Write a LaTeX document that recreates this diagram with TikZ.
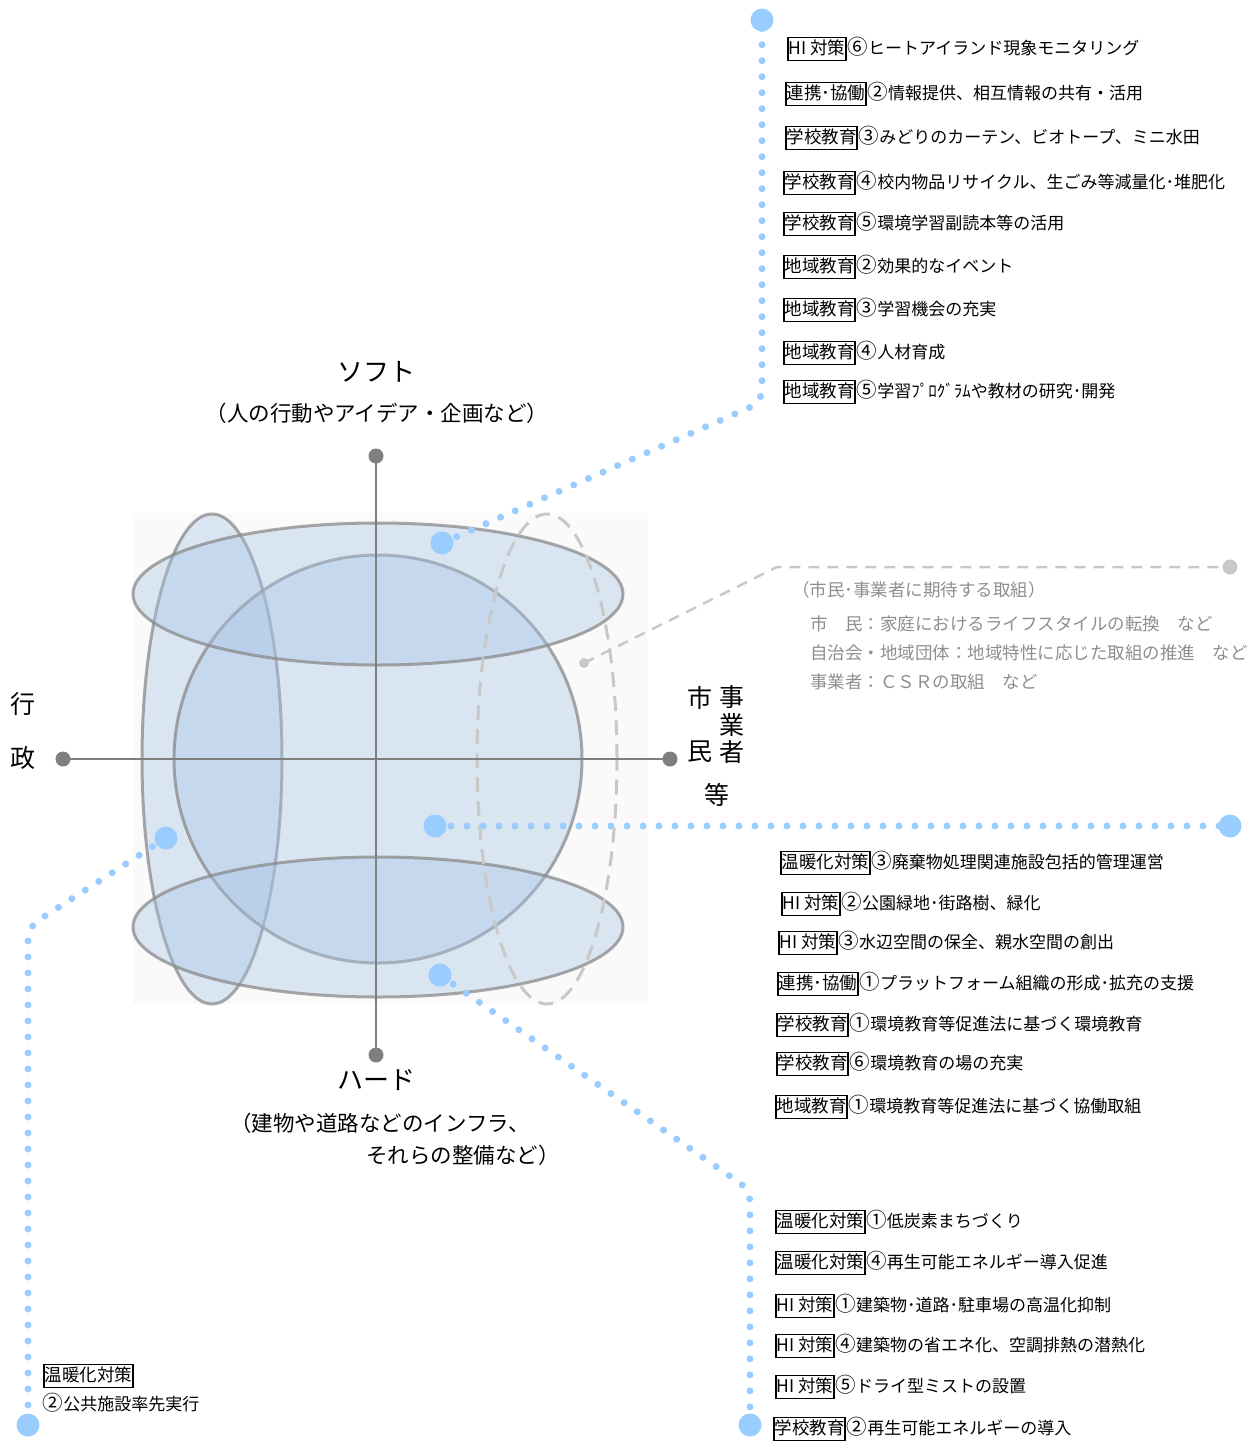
\documentclass[tikz,border=0pt]{standalone}
\usepackage{fontspec}
\setmainfont{Noto Sans CJK JP}
\definecolor{bdot}{HTML}{99CCFF}
\definecolor{axisgray}{HTML}{7F7F7F}
\definecolor{shapefill}{HTML}{A8C4E6}
\definecolor{shapeline}{HTML}{8A8A8A}
\definecolor{dashgray}{HTML}{C8C8C8}
\definecolor{softtext}{HTML}{8E8E8E}
\definecolor{bgbox}{HTML}{FAFAFA}
\newcommand{\circnum}[1]{{\fontsize{20.5}{20}\selectfont #1}}
\newcommand{\listentry}[5]{%
  \node[tagbox, anchor=west] (#1) at (#2) {#3};
  \node[entrytext, anchor=base west] (#1t) at (#1.base east) {\circnum{#4}#5};}
\begin{document}
\begin{tikzpicture}[x=1pt,y=-1pt,
  shapefig/.style={fill=shapefill, fill opacity=0.38, draw=shapeline, draw opacity=0.75, line width=3pt},
  dashring/.style={draw=dashgray, line width=3pt, dash pattern=on 15pt off 9pt},
  axisline/.style={draw=axisgray, line width=2.4pt},
  axdot/.style={circle, fill=axisgray, minimum size=15pt, inner sep=0pt},
  bluedots/.style={draw=bdot, line width=7pt, line cap=round, dash pattern=on 0pt off 16pt},
  bigdot/.style={circle, fill=bdot, minimum size=23pt, inner sep=0pt},
  greydash/.style={draw=dashgray, line width=2.5pt, dash pattern=on 11pt off 8pt},
  greydot/.style={circle, fill=dashgray, minimum size=15pt, inner sep=0pt},
  headlab/.style={inner sep=0pt, font=\fontsize{26}{30}\selectfont},
  sublab/.style={inner sep=0pt, font=\fontsize{21.5}{24}\selectfont},
  sidelab/.style={inner sep=0pt, font=\fontsize{25}{28}\selectfont},
  tagbox/.style={draw=black, line width=1.9pt, inner xsep=0.6pt, inner ysep=2pt, text height=15pt, text depth=4pt, font=\fontsize{17.5}{20}\selectfont},
  entrytext/.style={inner xsep=0.6pt, inner ysep=0pt, font=\fontsize{17}{20}\selectfont},
  softlab/.style={inner sep=0pt, text=softtext, font=\fontsize{17.5}{20}\selectfont}
]
\useasboundingbox (0,0) rectangle (1260,1443);
% background
\fill[bgbox] (133,513) rectangle (648,1004);
% shapes
\draw[shapefig] (212,759) ellipse [x radius=70pt, y radius=245pt];
\draw[shapefig] (378,759) circle [radius=204pt];
\draw[shapefig] (378,594) ellipse [x radius=245pt, y radius=71pt];
\draw[shapefig] (378,927) ellipse [x radius=245pt, y radius=70pt];
\draw[dashring] (547,759) ellipse [x radius=70pt, y radius=245pt];
% axes
\coordinate (ctop) at (376,456);
\coordinate (cbot) at (376,1055);
\coordinate (clft) at (63,759);
\coordinate (crgt) at (670,759);
\draw[axisline] (ctop) -- (cbot);
\draw[axisline] (clft) -- (crgt);
\node[axdot] (axtop) at (ctop) {};
\node[axdot] (axbot) at (cbot) {};
\node[axdot] (axlft) at (clft) {};
\node[axdot] (axrgt) at (crgt) {};
% axis labels
\node[headlab] (soft) at (376,372) {ソフト};
\node[sublab] (softsub) at (377,413) {（人の行動やアイデア・企画など）};
\node[headlab] (hard) at (376,1080) {ハード};
\node[sublab, anchor=west] (hardsub1) at (230,1123) {（建物や道路などのインフラ、};
\node[sublab, anchor=east] (hardsub2) at (560,1155) {それらの整備など）};
\node[sidelab] (gyo) at (23,704) {行};
\node[sidelab] (sei) at (23,758) {政};
\node[sidelab] (shi) at (700,698) {市};
\node[sidelab] (min) at (700,752) {民};
\node[sidelab] (ji) at (732,697) {事};
\node[sidelab] (gyou) at (732,725) {業};
\node[sidelab] (sha) at (732,752) {者};
\node[sidelab] (tou) at (717,795) {等};
% grey dashed connector
\coordinate (gs) at (584,663);
\coordinate (ge) at (1230,567);
\draw[greydash] (gs) -- (777,567) -- (ge);
\node[greydot, minimum size=10pt] (gsd) at (gs) {};
\node[greydot] (ged) at (ge) {};
\node[softlab, anchor=west] (s0) at (792,590) {（市民･事業者に期待する取組）};
\node[softlab, anchor=west] (s1) at (810,624) {市　民：家庭におけるライフスタイルの転換　など};
\node[softlab, anchor=west] (s2) at (810,653) {自治会・地域団体：地域特性に応じた取組の推進　など};
\node[softlab, anchor=west] (s3) at (810,682) {事業者：ＣＳＲの取組　など};
% blue dotted connectors
\coordinate (pa) at (442,543);
\coordinate (pa2) at (762,20);
\coordinate (pb) at (435,826);
\coordinate (pb2) at (1230,826);
\coordinate (pc) at (440,975);
\coordinate (pc2) at (750,1425);
\coordinate (pd) at (166,838);
\coordinate (pd2) at (28,1425);
\draw[bluedots, rounded corners=12pt] (pa) -- (762,402) -- (pa2);
\draw[bluedots] (pb) -- (pb2);
\draw[bluedots, rounded corners=12pt] (pc) -- (750,1190) -- (pc2);
\draw[bluedots, rounded corners=12pt] (pd) -- (28,927) -- (pd2);
\node[bigdot] (da) at (pa) {};
\node[bigdot] (da2) at (pa2) {};
\node[bigdot] (db) at (pb) {};
\node[bigdot] (db2) at (pb2) {};
\node[bigdot] (dc) at (pc) {};
\node[bigdot] (dc2) at (pc2) {};
\node[bigdot] (dd) at (pd) {};
\node[bigdot] (dd2) at (pd2) {};
% top list
\listentry{t1}{787,49}{HI 対策}{⑥}{ヒートアイランド現象モニタリング}
\listentry{t2}{785,94}{連携･協働}{②}{情報提供、相互情報の共有・活用}
\listentry{t3}{785,138}{学校教育}{③}{みどりのカーテン、ビオトープ、ミニ水田}
\listentry{t4}{783,183}{学校教育}{④}{校内物品リサイクル、生ごみ等減量化･堆肥化}
\listentry{t5}{783,224}{学校教育}{⑤}{環境学習副読本等の活用}
\listentry{t6}{783,267}{地域教育}{②}{効果的なイベント}
\listentry{t7}{783,310}{地域教育}{③}{学習機会の充実}
\listentry{t8}{783,353}{地域教育}{④}{人材育成}
\listentry{t9}{783,392}{地域教育}{⑤}{学習ﾌﾟﾛｸﾞﾗﾑや教材の研究･開発}
% middle list
\listentry{m1}{780,863}{温暖化対策}{③}{廃棄物処理関連施設包括的管理運営}
\listentry{m2}{781,904}{HI 対策}{②}{公園緑地･街路樹、緑化}
\listentry{m3}{778,943}{HI 対策}{③}{水辺空間の保全、親水空間の創出}
\listentry{m4}{777,984}{連携･協働}{①}{プラットフォーム組織の形成･拡充の支援}
\listentry{m5}{776,1025}{学校教育}{①}{環境教育等促進法に基づく環境教育}
\listentry{m6}{776,1064}{学校教育}{⑥}{環境教育の場の充実}
\listentry{m7}{775,1107}{地域教育}{①}{環境教育等促進法に基づく協働取組}
% bottom list
\listentry{b1}{775,1222}{温暖化対策}{①}{低炭素まちづくり}
\listentry{b2}{775,1263}{温暖化対策}{④}{再生可能エネルギー導入促進}
\listentry{b3}{775,1306}{HI 対策}{①}{建築物･道路･駐車場の高温化抑制}
\listentry{b4}{775,1346}{HI 対策}{④}{建築物の省エネ化、空調排熱の潜熱化}
\listentry{b5}{775,1387}{HI 対策}{⑤}{ドライ型ミストの設置}
\listentry{b6}{773,1429}{学校教育}{②}{再生可能エネルギーの導入}
% bottom left
\node[tagbox, anchor=west] (l1) at (43,1376) {温暖化対策};
\node[entrytext, anchor=west] (l1t) at (42,1403) {\circnum{②}公共施設率先実行};
\end{tikzpicture}
\end{document}
